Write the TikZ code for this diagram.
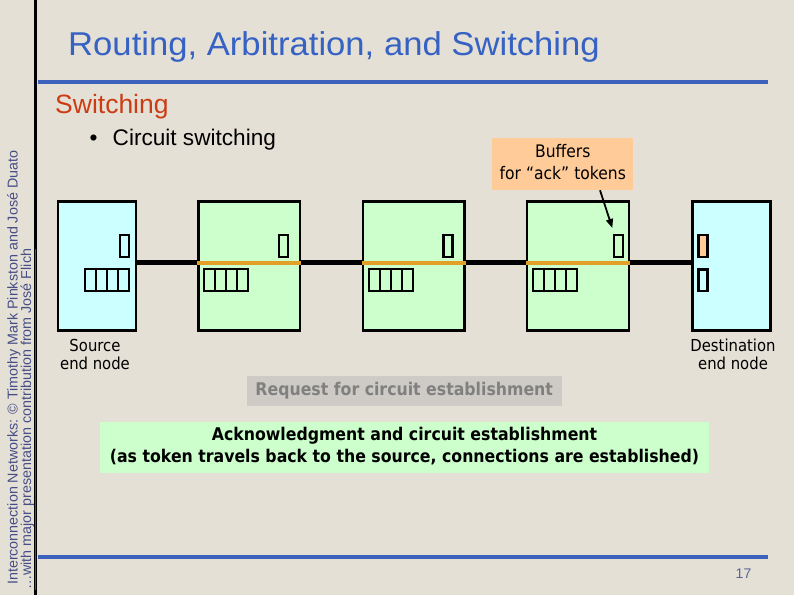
\documentclass[tikz,border=0pt]{standalone}
\usepackage{fontspec}
\usepackage{graphicx}
\setmainfont{Liberation Sans}
\newfontfamily\tah{DejaVu Sans}
\usetikzlibrary{arrows.meta}
\definecolor{bg}{RGB}{229,224,214}
\definecolor{titleblue}{RGB}{54,98,196}
\definecolor{rulblue}{RGB}{60,98,190}
\definecolor{subred}{RGB}{204,60,20}
\definecolor{sidetext}{RGB}{70,78,135}
\definecolor{cyanfill}{RGB}{204,255,255}
\definecolor{greenfill}{RGB}{204,255,204}
\definecolor{peach}{RGB}{255,204,153}
\definecolor{linkorange}{RGB}{226,160,40}
\definecolor{reqgray}{RGB}{206,203,198}
\definecolor{reqtext}{RGB}{128,128,128}
\definecolor{pagenum}{RGB}{90,100,150}
\newcommand{\tahtext}[4]{{\tah#1\fontsize{#2}{#3}\selectfont\scalebox{0.9}[1]{\begin{tabular}{@{}c@{}}#4\end{tabular}}}}
\tikzset{
  endbox/.style={draw=black, line width=2.4pt, fill=cyanfill, minimum width=78pt, minimum height=129pt, inner sep=0pt},
  routerbox/.style={draw=black, line width=2.4pt, fill=greenfill, minimum width=101.5pt, minimum height=129pt, inner sep=0pt},
  ackbuf/.style={draw=black, line width=2.2pt, minimum width=9pt, minimum height=21.7pt, inner sep=0pt},
  qcell/.style={draw=black, line width=2.2pt, minimum width=10.9pt, minimum height=21.4pt, inner sep=0pt},
  blink/.style={line width=5.5pt, black},
  olink/.style={line width=3.6pt, linkorange},
  bluerule/.style={line width=4pt, rulblue},
  sidelabel/.style={rotate=90, anchor=base west, inner sep=0pt, text=sidetext, font=\fontsize{14.3}{17}\selectfont},
  infobox/.style={inner sep=0pt},
}
\newcommand{\queue}[2]{%
  \foreach \k in {0,1,2,3} {\node[qcell] (#1\k) at ({#2+10.9*\k},280) {};}}
\begin{document}
\begin{tikzpicture}[x=1pt,y=-1pt]
\fill[bg] (0,0) rectangle (794,595);
\useasboundingbox (0,0) rectangle (794,595);
% left rule and side texts
\draw[line width=3.5pt, black] (35.3,0) -- (35.3,595);
\node[sidelabel] (side1) at (17.5,585) {Interconnection Networks: © Timothy Mark Pinkston and José Duato};
\node[sidelabel] (side2) at (31,590) {\underline{…with major presentation contribution from José Flich}};
% title
\node[anchor=base, inner sep=0pt, text=titleblue, font=\fontsize{33}{40}\selectfont] (title) at (334,55) {\scalebox{1.05}[1]{Routing, Arbitration, and Switching}};
\draw[bluerule] (38,81.7) -- (767.7,81.7);
\draw[bluerule] (38,557.3) -- (767.7,557.3);
\node[anchor=base west, inner sep=0pt, text=subred, font=\fontsize{26.5}{32}\selectfont] (sub) at (55,113.3) {Switching};
\node[anchor=base, inner sep=0pt, font=\fontsize{22.6}{27}\selectfont] (bul) at (93.5,145) {•};
\node[anchor=base west, inner sep=0pt, font=\fontsize{22.6}{27}\selectfont] (cs) at (112.5,145) {Circuit switching};
\node[text=pagenum, inner sep=0pt, font=\fontsize{14}{17}\selectfont] (pg) at (743.5,574) {17};
% boxes
\node[endbox] (src) at (96.7,266.1) {};
\node[routerbox] (r1) at (249.2,266.1) {};
\node[routerbox] (r2) at (413.9,266.1) {};
\node[routerbox] (r3) at (578,266.1) {};
\node[endbox] (dst) at (731.5,266.1) {};
% links
\draw[blink] ([yshift=3.4pt]src.east) -- ([yshift=3.4pt]r1.west);
\draw[blink] ([yshift=3.4pt]r1.east) -- ([yshift=3.4pt]r2.west);
\draw[blink] ([yshift=3.4pt]r2.east) -- ([yshift=3.4pt]r3.west);
\draw[blink] ([yshift=3.4pt]r3.east) -- ([yshift=3.4pt]dst.west);
\draw[olink] ([yshift=3.4pt]r1.west) -- ([yshift=3.4pt]r1.east);
\draw[olink] ([yshift=3.4pt]r2.west) -- ([yshift=3.4pt]r2.east);
\draw[olink] ([yshift=3.4pt]r3.west) -- ([yshift=3.4pt]r3.east);
% ack buffers
\node[ackbuf] (ack0) at (124.5,245.9) {};
\node[ackbuf] (ack1) at (283.5,245.9) {};
\node[ackbuf] (ack2) at (448,245.9) {};
\node[ackbuf] (ack3) at (618.2,245.9) {};
\node[ackbuf, fill=peach] (ackd) at (702.9,245.9) {};
\node[ackbuf] (bufd) at (702.9,280.3) {};
% queues
\queue{qs}{90.75}
\queue{qa}{209.75}
\queue{qb}{374.75}
\queue{qc}{538.75}
% labels
\node[infobox, fill=peach, minimum width=141pt, minimum height=51.7pt] (buf) at (562.8,164.2) {\tahtext{}{17.3}{21.3}{Buffers\\for “ack” tokens}};
\draw[line width=1.8pt, -{Triangle[length=9pt,width=7pt]}] ([xshift=37.2pt]buf.south) -- ([xshift=-5.9pt,yshift=6pt]ack3.north);
\node[infobox] (srclbl) at (95,356.5) {\tahtext{}{16.5}{18.3}{Source\\end node}};
\node[infobox] (dstlbl) at (733,356.5) {\tahtext{}{16.5}{18.3}{Destination\\end node}};
\node[infobox, fill=reqgray, minimum width=315pt, minimum height=29.7pt, text=reqtext] (req) at (404.2,390.9) {\tahtext{\bfseries}{17.5}{22.5}{Request for circuit establishment}};
\node[infobox, fill=greenfill, minimum width=609pt, minimum height=51pt] (ackmsg) at (404.5,447.2) {\tahtext{\bfseries}{17.5}{22.5}{Acknowledgment and circuit establishment\\(as token travels back to the source, connections are established)}};
\end{tikzpicture}
\end{document}
